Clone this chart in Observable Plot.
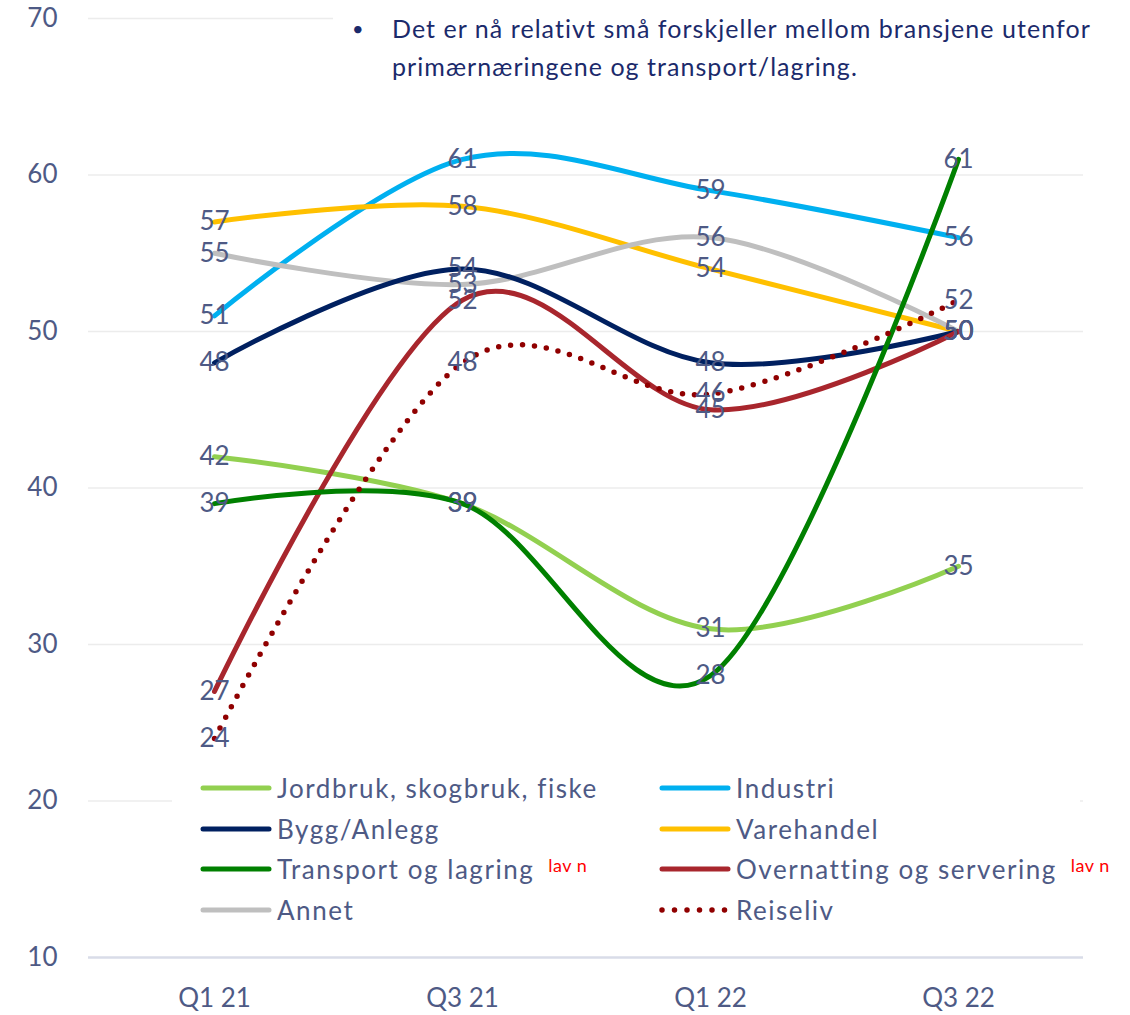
<!DOCTYPE html>
<html>
<head>
<meta charset="utf-8">
<script src="https://cdn.jsdelivr.net/npm/d3@7"></script>
<script src="https://cdn.jsdelivr.net/npm/@observablehq/plot@0.6"></script>
<style>
  html, body { margin: 0; padding: 0; background: #fff; }
  #wrap { position: relative; width: 1130px; height: 1015px; font-family: Lato, "Open Sans", sans-serif; overflow: hidden; }
  #wrap > svg { position: absolute; left: 0; top: 0; }
  #note { position: absolute; left: 333px; top: 0; width: 797px; height: 98px; background: #fff; color: #1b2a6b; font-size: 25px; line-height: 38px; letter-spacing: 1.05px; }
  #note .bul { position: absolute; left: 19px; top: 9px; font-size: 20px; }
  #note .txt { position: absolute; left: 59px; top: 9px; width: 738px; }
  #legend { position: absolute; left: 172px; top: 768px; width: 908px; height: 162px; background: #fff; color: #4e5a85; font-size: 26px; letter-spacing: 1.55px; }
  #wrap .item { position: absolute; height: 40px; display: flex; align-items: center; white-space: nowrap; }
  #wrap .item svg { position: static; margin-right: 5px; flex: none; }
  .lav { color: #ff0000; font-size: 18px; letter-spacing: 0.5px; margin-left: 14px; position: relative; top: -4px; }
</style>
</head>
<body>
<div id="wrap">
  <div id="note"><span class="bul">•</span><span class="txt"></span></div>
  <div id="legend"></div>
</div>
<script>
// ---- data ----
const quarters = ["Q1 21", "Q3 21", "Q1 22", "Q3 22"];
const seriesNames = ["Jordbruk, skogbruk, fiske", "Industri", "Bygg/Anlegg", "Varehandel", "Transport og lagring", "Overnatting og servering", "Annet", "Reiseliv"];
const seriesColors = ["#92D050", "#00B0F0", "#002060", "#FFC000", "#008000", "#A8262D", "#BFBFBF", "#900000"];
const lowN = [false, false, false, false, true, true, false, false];
const jordbruk = [42, 39, 31, 35];
const industri = [51, 61, 59, 56];
const bygg = [48, 54, 48, 50];
const varehandel = [57, 58, 54, 50];
const transport = [39, 39, 28, 61];
const overnatting = [27, 52, 45, 50];
const annet = [55, 53, 56, 50];
const reiseliv = [24, 48, 46, 52];
const yTicks = [10, 20, 30, 40, 50, 60, 70];
const noteText = "Det er nå relativt små forskjeller mellom bransjene utenfor primærnæringene og transport/lagring.";
const lowNText = "lav n";

document.querySelector("#note .txt").textContent = noteText;

const seriesValues = [jordbruk, industri, bygg, varehandel, transport, overnatting, annet, reiseliv];
// drawing order (back to front)
const drawOrder = [1, 3, 6, 0, 2, 5, 4];

const rows = [];
seriesValues.forEach((vals, i) => vals.forEach((v, j) => rows.push({s: seriesNames[i], q: quarters[j], v, order: i})));
const dotRows = rows.filter(r => r.s === "Reiseliv");

const textColor = "#4e5a85";

const chart = Plot.plot({
  width: 1130,
  height: 1015,
  marginLeft: 88,
  marginRight: 47,
  marginTop: 18,
  marginBottom: 58,
  style: {fontFamily: "Lato, 'Open Sans', sans-serif", color: textColor, background: "transparent"},
  x: {type: "point", domain: quarters, padding: 0.5},
  y: {domain: [10, 70]},
  color: {domain: seriesNames, range: seriesColors},
  marks: [
    Plot.ruleY(yTicks.filter(t => t > 10), {stroke: "#ececec", strokeWidth: 1.5}),
    Plot.ruleY([10], {stroke: "#d9dce8", strokeWidth: 2.5}),
    Plot.axisY({ticks: yTicks, tickSize: 0, tickPadding: 31, fontSize: 26, label: null}),
    Plot.axisX({tickSize: 0, tickPadding: 31, fontSize: 26, label: null}),
    ...drawOrder.map(i => Plot.line(rows.filter(r => r.order === i), {x: "q", y: "v", stroke: "s", strokeWidth: 5, curve: "cardinal", strokeLinecap: "round"})),
    Plot.line(dotRows, {x: "q", y: "v", stroke: "s", strokeWidth: 5.5, curve: "cardinal", strokeDasharray: "0 12", strokeLinecap: "round"}),
    Plot.text(rows, {x: "q", y: "v", text: d => String(d.v), fill: textColor, fontSize: 26})
  ]
});
document.getElementById("wrap").prepend(chart);

// ---- legend ----
const legend = document.getElementById("legend");
const colX = [28, 487];
const rowY = [0, 40.5, 81, 121.5];
seriesNames.forEach((name, i) => {
  const col = i % 2, row = Math.floor(i / 2);
  const item = document.createElement("div");
  item.className = "item";
  item.style.left = colX[col] + "px";
  item.style.top = rowY[row] + "px";
  const dotted = name === "Reiseliv";
  item.innerHTML =
    `<svg width="72" height="10"><line x1="3" y1="5" x2="69" y2="5" stroke="${seriesColors[i]}" stroke-width="${dotted ? 5.5 : 5}" stroke-linecap="round" ${dotted ? 'stroke-dasharray="0 12.5"' : ''}/></svg>` +
    `<span>${name}</span>` + (lowN[i] ? `<span class="lav">${lowNText}</span>` : "");
  legend.appendChild(item);
});
</script>
</body>
</html>
